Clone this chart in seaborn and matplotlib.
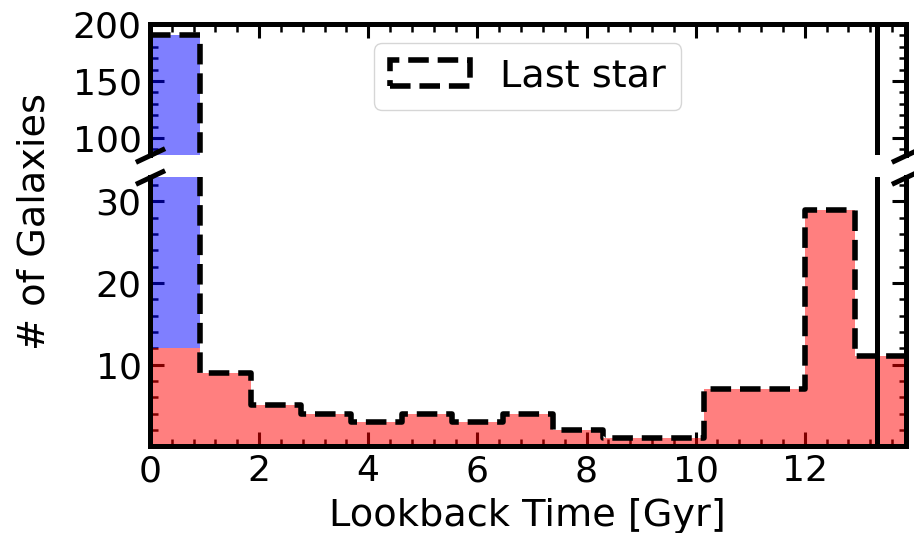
import numpy as np
import pandas as pd
import matplotlib
matplotlib.use("Agg")
import matplotlib.pyplot as plt
import matplotlib.patches as mpatches
from matplotlib.ticker import MultipleLocator
import seaborn as sns

# Lookback-time binning (Gyr)
bin_edges = np.linspace(0.0, 13.85, 16)
# Galaxy counts per lookback-time bin
last_star_counts = [190, 9, 5, 4, 3, 4, 3, 4, 2, 1, 1, 7, 7, 29, 11]
red_counts = [12, 9, 5, 4, 3, 4, 3, 4, 2, 1, 1, 7, 7, 29, 11]
blue_counts = [178, 0, 0, 0, 0, 0, 0, 0, 0, 0, 0, 0, 0, 0, 0]
age_line = 13.33
x_ticks = [0, 2, 4, 6, 8, 10, 12]
upper_ticks = [100, 150, 200]
lower_ticks = [10, 20, 30]

sns.set_style("ticks")
plt.rcParams["font.family"] = ["DejaVu Sans"]
plt.rcParams.update({
    "axes.edgecolor": "black",
    "axes.labelcolor": "black",
    "text.color": "black",
    "xtick.color": "black",
    "ytick.color": "black",
})

centers = 0.5 * (bin_edges[:-1] + bin_edges[1:])
edges_list = [float(e) for e in bin_edges]
n_bins = len(centers)
df = pd.DataFrame({
    "t": np.concatenate([centers, centers]),
    "n": list(red_counts) + list(blue_counts),
    "kind": ["red"] * n_bins + ["blue"] * n_bins,
})
df_last = pd.DataFrame({"t": centers, "n": last_star_counts})

fig, (ax_top, ax_bot) = plt.subplots(
    2, 1, sharex=True, figsize=(9.14, 5.33), dpi=100,
    gridspec_kw={"height_ratios": [131, 269], "hspace": 0.11},
)
fig.subplots_adjust(left=0.164, right=0.991, top=0.955, bottom=0.163)

spine_w = 3.6
for ax in (ax_top, ax_bot):
    sns.histplot(data=df, x="t", weights="n", hue="kind",
                 hue_order=["blue", "red"], multiple="stack",
                 bins=edges_list, palette={"blue": "blue", "red": "red"},
                 alpha=0.5, linewidth=0, legend=False, ax=ax)
    sns.histplot(data=df_last, x="t", weights="n", bins=edges_list,
                 element="step", fill=False, color="black",
                 linestyle="--", linewidth=4, ax=ax)
    ax.axvline(age_line, color="black", lw=spine_w)
    ax.set_xlim(bin_edges[0], bin_edges[-1])
    ax.set_xlabel("")
    ax.set_ylabel("")
    for s in ax.spines.values():
        s.set_linewidth(spine_w)
        s.set_color("black")
    ax.xaxis.set_minor_locator(MultipleLocator(0.4))
    ax.tick_params(which="both", direction="in", right=True, colors="black",
                   labelsize=26, pad=6)
    ax.tick_params(which="major", length=10, width=2.2)
    ax.tick_params(which="minor", length=5.4, width=1.8)

ax_top.set_ylim(85, 200)
ax_top.set_yticks(upper_ticks)
ax_top.yaxis.set_minor_locator(MultipleLocator(10))
ax_top.spines["bottom"].set_visible(False)
ax_top.tick_params(which="both", bottom=False, labelbottom=False, top=True)

ax_bot.set_ylim(0, 33)
ax_bot.set_yticks(lower_ticks)
ax_bot.yaxis.set_minor_locator(MultipleLocator(2))
ax_bot.spines["top"].set_visible(False)
ax_bot.tick_params(which="both", top=False)
ax_bot.set_xticks(x_ticks)
ax_bot.set_xlabel("Lookback Time [Gyr]", fontsize=27.5, labelpad=7,
                  color="black")

# Diagonal break marks where the two panels meet
for ax, yb in ((ax_top, 0), (ax_bot, 1)):
    ax.plot([0, 1], [yb, yb], transform=ax.transAxes,
            marker=[(-1, -0.47), (1, 0.47)], markersize=21,
            linestyle="none", color="black", mec="black", mew=spine_w,
            clip_on=False)

handle = mpatches.Patch(facecolor="none", edgecolor="black", linestyle="--",
                        linewidth=4, label="Last star")
ax_top.legend(handles=[handle], loc="upper center", fontsize=27.5,
              handlelength=2.1)

fig.text(0.038, 0.585, "# of Galaxies", rotation=90, ha="center",
         va="center", fontsize=27.5, color="black")

fig.savefig("out.png", dpi=100)
